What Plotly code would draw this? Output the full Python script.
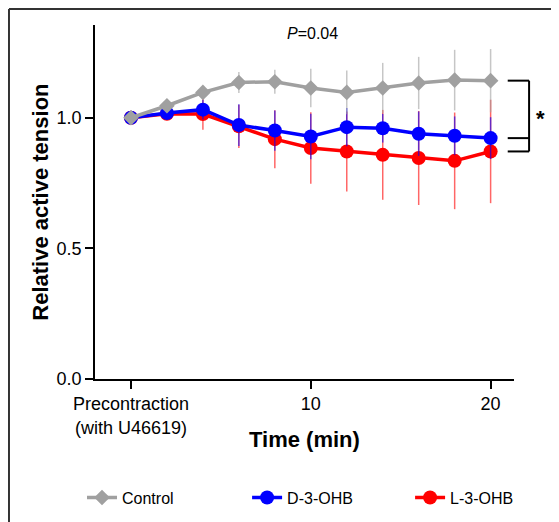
import plotly.graph_objects as go

# tid i minuter (0 = prekontraktion med U46619)
time_min = [0, 2, 4, 6, 8, 10, 12, 14, 16, 18, 20]

control = [1.0, 1.046, 1.097, 1.135, 1.138, 1.114, 1.097, 1.114, 1.133, 1.144, 1.142]
control_sem = [0.0, 0.01, 0.015, 0.04, 0.046, 0.074, 0.084, 0.096, 0.10, 0.116, 0.121]

d3ohb = [1.0, 1.018, 1.031, 0.972, 0.951, 0.928, 0.964, 0.960, 0.939, 0.931, 0.922]
d3ohb_sem = [0.0, 0.01, 0.038, 0.08, 0.077, 0.087, 0.073, 0.055, 0.085, 0.074, 0.080]

l3ohb = [1.0, 1.015, 1.014, 0.967, 0.918, 0.884, 0.871, 0.858, 0.846, 0.835, 0.871]
l3ohb_sem = [0.0, 0.01, 0.06, 0.083, 0.111, 0.137, 0.153, 0.172, 0.18, 0.185, 0.198]

x_tickvals = [0, 10, 20]
x_ticktext = ["Precontraction<br>(with U46619)", "10", "20"]
y_tickvals = [0.0, 0.5, 1.0]

FONT = "Liberation Sans, Arial, sans-serif"

fig = go.Figure()

# röd först, sedan blå, grå överst (som i originalet); varje serie får en egen legend
fig.add_trace(go.Scatter(
    x=time_min, y=l3ohb, name="L-3-OHB", mode="lines+markers", legend="legend3",
    line=dict(color="#ff0000", width=3.5),
    marker=dict(symbol="circle", size=14, color="#ff0000"),
    error_y=dict(type="data", array=l3ohb_sem, color="rgba(255,0,0,0.6)", thickness=1.5, width=0),
))
fig.add_trace(go.Scatter(
    x=time_min, y=d3ohb, name="D-3-OHB", mode="lines+markers", legend="legend2",
    line=dict(color="#0000ff", width=3.5),
    marker=dict(symbol="circle", size=14, color="#0000ff"),
    error_y=dict(type="data", array=d3ohb_sem, color="rgba(0,0,255,0.6)", thickness=1.5, width=0),
))
fig.add_trace(go.Scatter(
    x=time_min, y=control, name="Control", mode="lines+markers", legend="legend",
    line=dict(color="#a0a0a0", width=3.5),
    marker=dict(symbol="diamond", size=12, color="#a0a0a0"),
    error_y=dict(type="data", array=control_sem, color="rgba(160,160,160,0.6)", thickness=1.5, width=0),
))

# signifikansklammer till höger
bx0, bx1 = 0.985, 1.036
for yv in [control[-1], d3ohb[-1], l3ohb[-1]]:
    fig.add_shape(type="line", xref="paper", yref="y", x0=bx0, x1=bx1, y0=yv, y1=yv,
                  line=dict(color="black", width=2))
fig.add_shape(type="line", xref="paper", yref="y", x0=bx1, x1=bx1, y0=l3ohb[-1], y1=control[-1],
              line=dict(color="black", width=2))
fig.add_annotation(xref="paper", yref="y", x=1.064, y=(control[-1] + l3ohb[-1]) / 2 - 0.01,
                   xanchor="center", yanchor="middle",
                   text="<b>*</b>", showarrow=False, font=dict(size=22, color="black", family=FONT))

# ram (topp och vänster)
fig.add_shape(type="line", xref="paper", yref="paper", x0=-0.2053, x1=1.12, y0=1.0452, y1=1.0452,
              line=dict(color="#333333", width=2))
fig.add_shape(type="line", xref="paper", yref="paper", x0=-0.2053, x1=-0.2053, y0=1.0452, y1=-0.42,
              line=dict(color="#333333", width=2))

fig.add_annotation(xref="paper", yref="paper", x=0.52, y=0.977, xanchor="center", yanchor="middle",
                   text="<i>P</i>=0.04", showarrow=False, font=dict(size=16, color="black", family=FONT))
fig.add_annotation(xref="paper", yref="paper", x=0.5, y=-0.172, xanchor="center", yanchor="middle",
                   text="<b>Time (min)</b>", showarrow=False, font=dict(size=22, color="black", family=FONT))
fig.add_annotation(xref="paper", yref="paper", x=-0.132, y=0.5, xanchor="center", yanchor="middle",
                   text="<b>Relative active tension</b>", textangle=-90, showarrow=False,
                   font=dict(size=22, color="black", family=FONT))

leg = dict(orientation="h", y=-0.335, xanchor="left", yanchor="middle",
           font=dict(size=16), bgcolor="rgba(0,0,0,0)")
# sidan får 8 px marginal av webbläsaren, därför 551x514 och l/t minskade med 8
fig.update_layout(
    width=551, height=514,
    margin=dict(l=87, r=45, t=17, b=143, autoexpand=False),
    plot_bgcolor="white", paper_bgcolor="white",
    font=dict(family=FONT, size=18, color="black"),
    showlegend=True,
    legend=dict(leg, x=-0.031),
    legend2=dict(leg, x=0.363),
    legend3=dict(leg, x=0.752),
)
fig.update_xaxes(range=[-2.0, 21.3], tickvals=x_tickvals, ticktext=x_ticktext,
                 showline=True, linecolor="black", linewidth=1.5, showgrid=False, zeroline=False,
                 ticks="outside", ticklen=8, tickwidth=1.5, tickcolor="black")
fig.update_yaxes(range=[0, 1.355], tickvals=y_tickvals, tickformat=".1f",
                 showline=True, linecolor="black", linewidth=1.5, showgrid=False, zeroline=False,
                 ticks="outside", ticklen=8, tickwidth=1.5, tickcolor="black")

fig.write_html("out.html")
